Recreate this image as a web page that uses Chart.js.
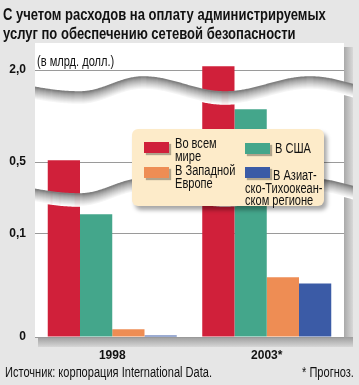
<!DOCTYPE html>
<html>
<head>
<meta charset="utf-8">
<script src="https://cdn.jsdelivr.net/npm/chart.js@4/dist/chart.umd.min.js"></script>
<style>
  html, body { margin:0; padding:0; background:#e6e6e6; }
  #wrap { position:relative; width:359px; height:385px; overflow:hidden; background:#e6e6e6;
          font-family:"Liberation Sans",Arial,sans-serif; color:#111; }
  canvas { position:absolute; left:0; top:0; }
  .t { position:absolute; white-space:nowrap; transform-origin:0 0; }
  .ttl { font-weight:bold; font-size:17px; line-height:19px; left:3px; }
  .sm { font-size:14px; line-height:15px; }
  #legend { position:absolute; left:132px; top:129px; width:192px; height:77px; background:#fdebc9;
            border-radius:6px; box-shadow:3px 4px 4px rgba(0,0,0,0.35); }
  .sw { position:absolute; width:25px; height:11px; box-shadow:2px 2px 1px rgba(0,0,0,0.3); }
  .lt { position:absolute; white-space:nowrap; font-size:14px; line-height:12px; transform-origin:0 0; }
</style>
</head>
<body>
<div id="wrap">
  <canvas id="c" width="359" height="385"></canvas>
  <div class="t ttl" id="title1" style="top:5px">С учетом расходов на оплату администрируемых</div>
  <div class="t ttl" id="title2" style="top:24px">услуг по обеспечению сетевой безопасности</div>
  <div class="t sm" id="unit" style="left:37px; top:54px"></div>
  <div id="legend"></div>
  <div class="t sm" id="src" style="left:5px; top:364.5px">Источник: корпорация International Data.</div>
  <div class="t sm" id="note" style="top:364.5px">* Прогноз.</div>
</div>
<script>
// ---- data ----
const categories = ["1998", "2003*"];
const seriesNames = ["Во всем\nмире", "В США", "В Западной\nЕвропе", "В Азиат-\nско-Тихоокеан-\nском регионе"];
const world = [0.53, 2.06];
const usa = [0.21, 1.36];
const westEurope = [0.0075, 0.058];
const asiaPacific = [0.0015, 0.052];
const yTickValues = [0, 0.1, 0.5, 2.0];
const yTickLabels = ["0", "0,1", "0,5", "2,0"];
const unitLabel = "(в млрд. долл.)";
const colors = ["#d0203a", "#44a68b", "#ee8d54", "#3b5ba6"];

document.getElementById('unit').textContent = unitLabel;

// broken axis: each segment between break values gets its own height
const segHeights = [103, 72, 92];
function brk(v) {
  let acc = 0;
  for (let i = 0; i < segHeights.length; i++) {
    const a = yTickValues[i], b = yTickValues[i + 1];
    if (v <= b || i === segHeights.length - 1) return acc + (v - a) / (b - a) * segHeights[i];
    acc += segHeights[i];
  }
  return acc;
}

const seriesData = [world, usa, westEurope, asiaPacific];
const datasets = seriesData.map((arr, i) => ({
  label: seriesNames[i].replace(/\n/g, ' '),
  data: arr.map(brk),
  backgroundColor: colors[i],
  borderWidth: 0
}));

// condensed look: scale text horizontally
const titleEl = document.getElementById('title1');
const kTitle = 323 / titleEl.offsetWidth;
['title1', 'title2'].forEach(id => document.getElementById(id).style.transform = `scaleX(${kTitle})`);
const srcEl = document.getElementById('src');
const kSmall = 207 / srcEl.offsetWidth;
['src', 'unit'].forEach(id => document.getElementById(id).style.transform = `scaleX(${kSmall})`);
const noteEl = document.getElementById('note');
noteEl.style.transform = `scaleX(${kSmall})`;
noteEl.style.left = (354 - noteEl.offsetWidth * kSmall) + 'px';

// legend (HTML)
const legendLayout = [
  {s: 0, sx: 12, sy: 13, tx: 43, tx2: 43, ty: 8},
  {s: 2, sx: 12, sy: 38, tx: 43, tx2: 43, ty: 35},
  {s: 1, sx: 113, sy: 14, tx: 143, tx2: 143, ty: 13},
  {s: 3, sx: 113, sy: 38, tx: 141, tx2: 113, ty: 40}
];
const lg = document.getElementById('legend');
legendLayout.forEach(o => {
  const sw = document.createElement('div');
  sw.className = 'sw';
  sw.style.left = o.sx + 'px'; sw.style.top = o.sy + 'px';
  sw.style.background = colors[o.s];
  lg.appendChild(sw);
  seriesNames[o.s].split('\n').forEach((line, j) => {
    const tx = document.createElement('div');
    tx.className = 'lt';
    tx.textContent = line;
    tx.style.left = (j === 0 ? o.tx : o.tx2) + 'px';
    tx.style.top = (o.ty + 12.5 * j) + 'px';
    tx.style.transform = `scaleX(${kSmall})`;
    lg.appendChild(tx);
  });
});

// decorative backdrop: white plot panel with shadow
const backdrop = {
  id: 'backdrop',
  beforeDraw(chart) {
    const ctx = chart.ctx, a = chart.chartArea;
    ctx.save();
    let g = ctx.createLinearGradient(a.right, 0, a.right + 9, 0);
    g.addColorStop(0, '#a9a9a9'); g.addColorStop(1, '#d8d8d8');
    ctx.fillStyle = g;
    ctx.fillRect(a.right, a.top + 4, 9, a.bottom - a.top + 6);
    g = ctx.createLinearGradient(0, a.bottom, 0, a.bottom + 10);
    g.addColorStop(0, '#9d9d9d'); g.addColorStop(1, '#d6d6d6');
    ctx.fillStyle = g;
    ctx.fillRect(a.left + 3, a.bottom, a.right - a.left + 6, 10);
    ctx.fillStyle = '#ffffff';
    ctx.fillRect(a.left, a.top, a.right - a.left, a.bottom - a.top + 1);
    ctx.restore();
  }
};

// axis-break waves
function waveY(x) {
  const ext = [[-40, 77], [80, 92], [143, 77], [225, 92], [310, 77], [395, 92]];
  for (let i = 0; i < ext.length - 1; i++) {
    const [x0, y0] = ext[i], [x1, y1] = ext[i + 1];
    if (x <= x1) {
      const f = (x - x0) / (x1 - x0);
      return y0 + (y1 - y0) * (1 - Math.cos(Math.PI * f)) / 2;
    }
  }
  return ext[ext.length - 1][1];
}
const waves = {
  id: 'waves',
  afterDatasetsDraw(chart) {
    const ctx = chart.ctx, a = chart.chartArea;
    const x0 = a.left, x1 = a.right + 9;
    ctx.save();
    ctx.beginPath();
    ctx.rect(x0, a.top, x1 - x0, a.bottom - a.top);
    ctx.clip();
    [0, 102].forEach(dy => {
      const band = 12;
      for (let i = band; i >= 0; i--) {
        const t = i / band;
        const c = Math.round(128 + (255 - 128) * Math.pow(t, 0.8));
        ctx.strokeStyle = `rgb(${c},${c},${c})`;
        ctx.lineWidth = 1.6;
        ctx.beginPath();
        for (let x = x0; x <= x1; x += 1) {
          const y = waveY(x) + dy + i;
          if (x === x0) ctx.moveTo(x, y); else ctx.lineTo(x, y);
        }
        ctx.stroke();
      }
    });
    ctx.restore();
  }
};

new Chart(document.getElementById('c'), {
  type: 'bar',
  data: { labels: categories, datasets },
  plugins: [backdrop, waves],
  options: {
    responsive: false,
    animation: false,
    events: [],
    layout: { padding: { left: 0, right: 15, top: 43, bottom: 0 } },
    plugins: { legend: { display: false }, tooltip: { enabled: false } },
    datasets: { bar: { categoryPercentage: 0.835, barPercentage: 1.0 } },
    scales: {
      x: {
        offset: true,
        grid: { display: false, drawTicks: false },
        border: { display: false },
        ticks: { color: '#111', font: { family: 'Liberation Sans', weight: 'bold', size: 12 }, padding: 11, maxRotation: 0 },
        afterFit(s) { s.height = 48; }
      },
      y: {
        min: 0,
        max: 294,
        grid: { color: '#9a9a9a', lineWidth: 1, drawTicks: false },
        border: { display: false },
        afterBuildTicks(s) { s.ticks = yTickValues.map(v => ({ value: brk(v) })); },
        ticks: {
          color: '#111',
          font: { family: 'Liberation Sans', weight: 'bold', size: 12 },
          padding: 9,
          callback(value, index) { return yTickLabels[index]; }
        },
        afterFit(s) { s.width = 35; }
      }
    }
  }
});
</script>
</body>
</html>
